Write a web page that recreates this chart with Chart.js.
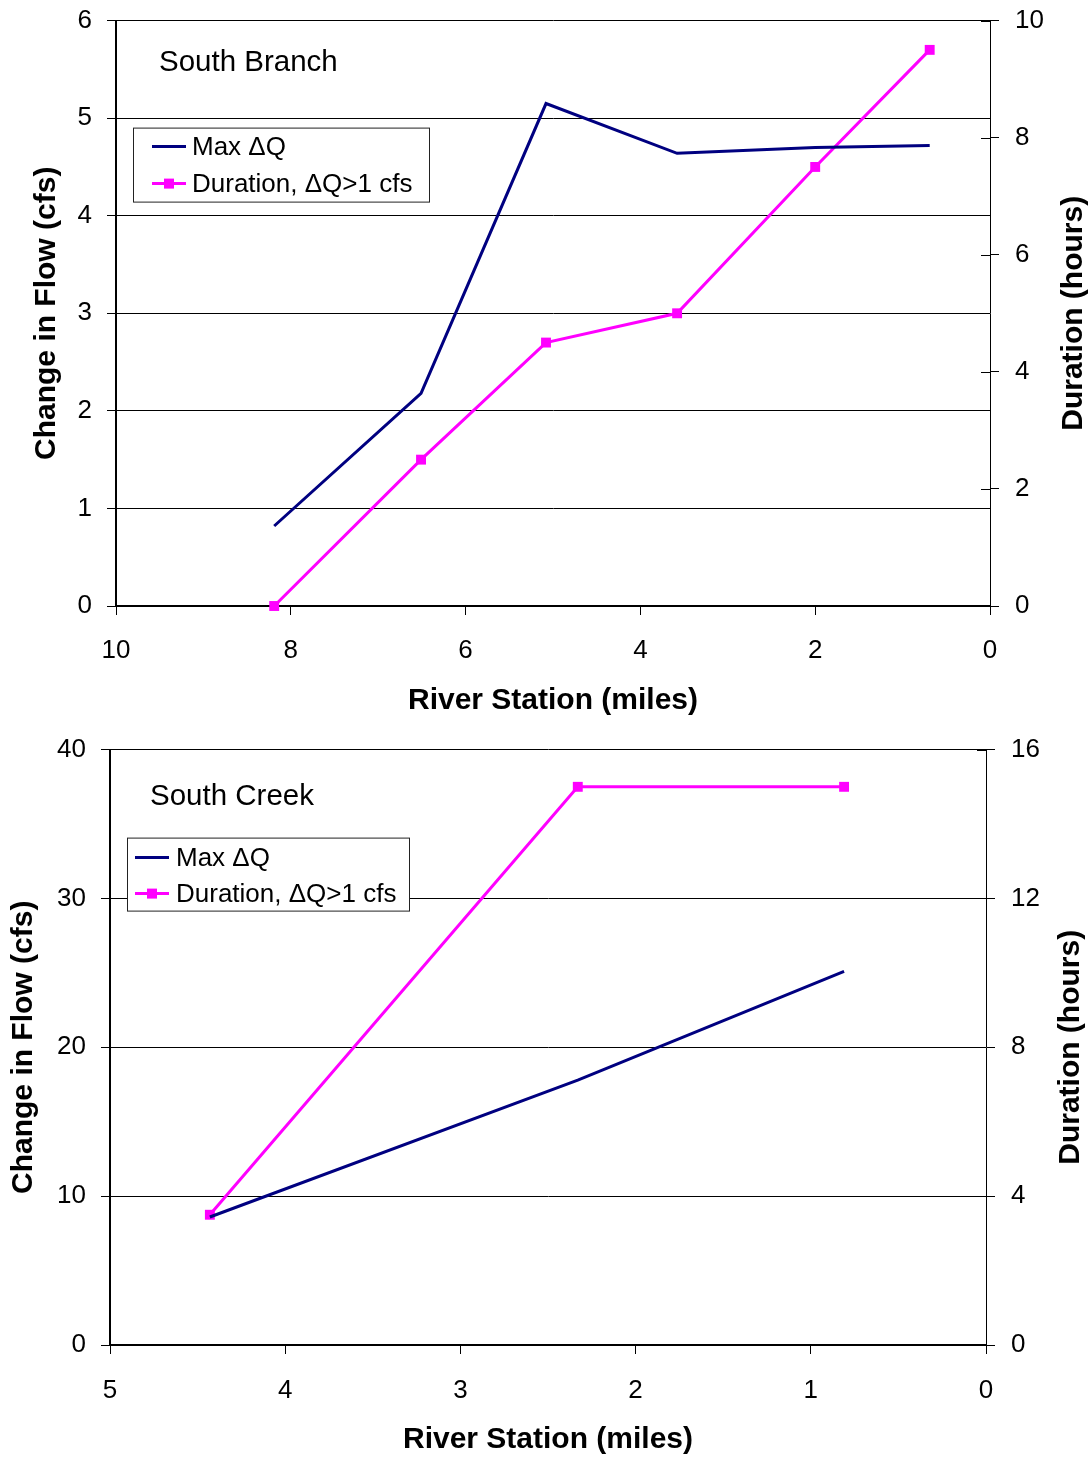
<!DOCTYPE html>
<html><head><meta charset="utf-8">
<script src="https://cdn.jsdelivr.net/npm/chart.js@4"></script>
<style>
html,body{margin:0;padding:0;background:#fff;overflow:hidden;}
#c1{position:absolute;left:0;top:-11px;}
#c2{position:absolute;left:0;top:718px;}
</style></head><body>
<canvas id="c1" width="1092" height="736"></canvas>
<canvas id="c2" width="1092" height="740"></canvas>
<script>
const FONT = "'Liberation Sans', Arial, sans-serif";

// ---- South Branch ----
const branchStations = [8.19, 6.51, 5.08, 3.58, 2.0, 0.69];
const branchMaxDQ    = [0.82, 2.18, 5.15, 4.64, 4.70, 4.72];
const branchDuration = [0, 2.5, 4.5, 5.0, 7.5, 9.5];

// ---- South Creek ----
const creekStations = [4.43, 2.33, 0.81];
const creekMaxDQ    = [8.6, 17.8, 25.1];
const creekDuration = [3.5, 15, 15];

const seriesNames = ['Max \u0394Q', 'Duration, \u0394Q>1 cfs'];
const seriesColors = ['#000080', '#FF00FF'];
const xTitle = 'River Station (miles)';
const yTitle = 'Change in Flow (cfs)';
const y2Title = 'Duration (hours)';

const overlayPlugin = {
  id: 'overlay',
  afterDraw(chart, args, o) {
    const ctx = chart.ctx, ca = chart.chartArea;
    ctx.save();
    // inner half of right-axis ticks
    const r = chart.scales.y1;
    ctx.strokeStyle = '#000'; ctx.lineWidth = 1;
    r.ticks.forEach(t => {
      const py = Math.round(r.getPixelForValue(t.value)) + 0.5;
      ctx.beginPath(); ctx.moveTo(ca.right - 9, py); ctx.lineTo(ca.right, py); ctx.stroke();
    });
    // annotation text
    ctx.fillStyle = '#000';
    ctx.font = '29.5px ' + FONT;
    ctx.textBaseline = 'middle'; ctx.textAlign = 'left';
    ctx.fillText(o.label, ca.left + o.labelDx, ca.top + o.labelDy);
    // legend box
    const bx = ca.left + o.box[0], by = ca.top + o.box[1];
    ctx.fillStyle = '#fff';
    ctx.fillRect(bx, by, o.box[2], o.box[3]);
    ctx.strokeStyle = '#222'; ctx.lineWidth = 1;
    ctx.strokeRect(bx + 0.5, by + 0.5, o.box[2], o.box[3]);
    ctx.font = '26px ' + FONT;
    for (let i = 0; i < 2; i++) {
      const ry = by + o.rows[i];
      ctx.strokeStyle = seriesColors[i]; ctx.lineWidth = 3;
      ctx.beginPath(); ctx.moveTo(bx + o.sample[0], ry); ctx.lineTo(bx + o.sample[1], ry); ctx.stroke();
      if (i === 1) {
        ctx.fillStyle = seriesColors[1];
        const cx = bx + (o.sample[0] + o.sample[1]) / 2;
        ctx.fillRect(cx - 5, ry - 5, 10, 10);
      }
      ctx.fillStyle = '#000';
      ctx.fillText(seriesNames[i], bx + o.textDx, ry + 1);
    }
    // right axis title, reading bottom-to-top
    ctx.font = 'bold 30px ' + FONT;
    ctx.textAlign = 'center'; ctx.textBaseline = 'middle';
    ctx.translate(ca.right + o.rTitleDx, (ca.top + ca.bottom) / 2);
    ctx.rotate(-Math.PI / 2);
    ctx.fillText(y2Title, 0, 0);
    ctx.restore();
  }
};

function makeChart(id, st, dq, du, cfg) {
  const tickFont = { family: FONT, size: 26 };
  const titleFont = { family: FONT, size: 30, weight: 'bold' };
  return new Chart(document.getElementById(id), {
    type: 'line',
    data: {
      datasets: [
        { label: seriesNames[0], data: st.map((x, i) => ({ x, y: dq[i] })),
          borderColor: seriesColors[0], backgroundColor: seriesColors[0], borderWidth: 3,
          pointRadius: 0, pointHoverRadius: 0, tension: 0, yAxisID: 'y', clip: false },
        { label: seriesNames[1], data: st.map((x, i) => ({ x, y: du[i] })),
          borderColor: seriesColors[1], backgroundColor: seriesColors[1], borderWidth: 3,
          pointStyle: 'rect', pointRadius: 7, pointHoverRadius: 7, pointBorderWidth: 0,
          tension: 0, yAxisID: 'y1', clip: false }
      ]
    },
    options: {
      responsive: false, animation: false, devicePixelRatio: 1,
      layout: { padding: { top: 0, left: 0, right: 0, bottom: 0 } },
      plugins: { legend: { display: false }, tooltip: { enabled: false }, overlay: cfg.overlay },
      scales: {
        x: {
          type: 'linear', reverse: true, min: cfg.xMin, max: cfg.xMax,
          ticks: { stepSize: cfg.xStep, font: tickFont, color: '#000', padding: cfg.xTickPad, maxRotation: 0, autoSkip: false },
          grid: { drawOnChartArea: false, drawTicks: true, tickLength: 9, color: '#000', lineWidth: 1 },
          border: { display: true, color: '#000', width: 2 },
          title: { display: true, text: xTitle, font: titleFont, color: '#000', padding: { top: 0, bottom: cfg.xTitlePad } },
          afterFit(s) { s.height = cfg.xAxisH; }
        },
        y: {
          position: 'left', min: 0, max: cfg.yMax,
          ticks: { stepSize: cfg.yStep, font: tickFont, color: '#000', padding: 15 },
          grid: { color: '#000', lineWidth: 1, tickLength: 9, drawTicks: true },
          border: { display: true, color: '#000', width: 2 },
          title: { display: true, text: yTitle, font: titleFont, color: '#000', padding: { top: cfg.yTitlePad, bottom: 0 } },
          afterFit(s) { s.width = cfg.leftW; }
        },
        y1: {
          position: 'right', min: 0, max: cfg.y2Max,
          ticks: { stepSize: cfg.y2Step, font: tickFont, color: '#000', padding: 16 },
          grid: { drawOnChartArea: false, drawTicks: true, tickLength: 9, color: '#000', lineWidth: 1 },
          border: { display: true, color: '#000', width: 1 },
          afterFit(s) { s.width = cfg.rightW; }
        }
      }
    },
    plugins: [overlayPlugin]
  });
}

makeChart('c1', branchStations, branchMaxDQ, branchDuration, {
  xAxisH: 119, leftW: 116, rightW: 102,
  xMin: 0, xMax: 10, xStep: 2, yMax: 6, yStep: 1, y2Max: 10, y2Step: 2,
  xTickPad: 20, xTitlePad: 6, yTitlePad: 29,
  overlay: { label: 'South Branch', labelDx: 43, labelDy: 42,
    box: [17, 107, 296, 74], rows: [19, 56], sample: [19, 53], textDx: 59, rTitleDx: 84 }
});

makeChart('c2', creekStations, creekMaxDQ, creekDuration, {
  xAxisH: 113, leftW: 110, rightW: 106,
  xMin: 0, xMax: 5, xStep: 1, yMax: 40, yStep: 10, y2Max: 16, y2Step: 4,
  xTickPad: 21, xTitlePad: 0, yTitlePad: 6,
  overlay: { label: 'South Creek', labelDx: 40, labelDy: 47,
    box: [17, 88, 282, 73], rows: [20, 56], sample: [8, 42], textDx: 49, rTitleDx: 85 }
});
</script>
</body></html>
